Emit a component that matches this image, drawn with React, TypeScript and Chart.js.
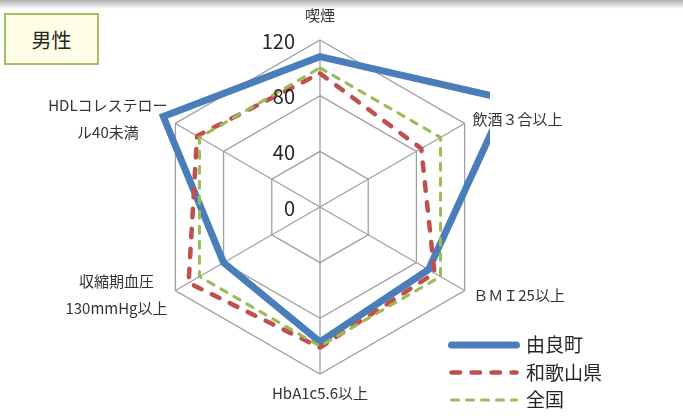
import React, { useEffect, useRef } from 'react';
import { Chart, registerables } from 'chart.js';

Chart.register(...registerables);

const FONT = '"Noto Sans CJK JP", "Noto Sans", sans-serif';

// ---- data ----
const categories: (string | string[])[] = [
  '喫煙',
  '飲酒３合以上',
  'ＢＭＩ25以上',
  'HbA1c5.6以上',
  ['収縮期血圧', '130mmHg以上'],
  ['HDLコレステロー', 'ル40未満'],
];
const seriesNames = ['由良町', '和歌山県', '全国'];
const yuraValues = [108, 155, 90, 97, 80, 130];
const wakayamaValues = [96, 84, 95, 101, 109, 102];
const nationalValues = [100, 100, 100, 100, 100, 100];
const tickValues = [0, 40, 80, 120];

// ---- styling helpers ----
const labelGaps = [25, 9, 10, 19, 9, 9];

const clipPlugin = {
  id: 'plotClip',
  beforeDatasetDraw(chart: any) {
    const { ctx, chartArea } = chart;
    ctx.save();
    ctx.beginPath();
    ctx.rect(0, 0, chartArea.right + 3, chart.height);
    ctx.clip();
  },
  afterDatasetDraw(chart: any) {
    chart.ctx.restore();
  },
};

const pointLabelPlugin = {
  id: 'excelPointLabels',
  afterDraw(chart: any) {
    const scale = chart.scales.r;
    const ctx = chart.ctx;
    ctx.save();
    ctx.font = `15px ${FONT}`;
    ctx.fillStyle = '#333333';
    ctx.textBaseline = 'middle';
    ctx.textAlign = 'center';
    const lh = 27;
    (chart.data.labels as any[]).forEach((lab, i) => {
      const lines: string[] = Array.isArray(lab) ? lab : [lab];
      const pos = scale.getPointPosition(i, scale.drawingArea + labelGaps[i]);
      const maxW = Math.max(...lines.map((l) => ctx.measureText(l).width));
      let cx = pos.x;
      if (pos.x > scale.xCenter + 1) cx = pos.x + maxW / 2;
      else if (pos.x < scale.xCenter - 1) cx = pos.x - maxW / 2;
      lines.forEach((line, j) => {
        ctx.fillText(line, cx, pos.y + (j - (lines.length - 1) / 2) * lh);
      });
    });
    ctx.restore();
  },
};

const tickLabelPlugin = {
  id: 'excelTickLabels',
  afterDraw(chart: any) {
    const scale = chart.scales.r;
    const ctx = chart.ctx;
    ctx.save();
    ctx.font = `20px ${FONT}`;
    ctx.fillStyle = '#262626';
    ctx.textAlign = 'right';
    ctx.textBaseline = 'middle';
    scale.ticks.forEach((t: any) => {
      const d = scale.getDistanceFromCenterForValue(t.value);
      ctx.fillText(String(t.label), scale.xCenter - 25, scale.yCenter - d + 1);
    });
    ctx.restore();
  },
};

const legendPlacePlugin = {
  id: 'legendPlace',
  afterLayout(chart: any) {
    const lg = chart.legend;
    if (!lg) return;
    lg.left = 443;
    lg.top = 327;
    lg.right = chart.width;
    lg.bottom = chart.height + 300;
  },
};

export default function App() {
  const ref = useRef<HTMLCanvasElement | null>(null);

  useEffect(() => {
    if (!ref.current) return;
    const chart = new Chart(ref.current, {
      type: 'radar',
      data: {
        labels: categories,
        datasets: [
          {
            label: seriesNames[0],
            data: yuraValues,
            borderColor: '#4a7ebb',
            backgroundColor: 'transparent',
            borderWidth: 7,
            borderJoinStyle: 'miter',
            borderCapStyle: 'round',
            pointRadius: 0,
            fill: false,
            order: 3,
          },
          {
            label: seriesNames[1],
            data: wakayamaValues,
            borderColor: '#c0504d',
            backgroundColor: 'transparent',
            borderWidth: 4.5,
            borderDash: [8.5, 11.5],
            borderCapStyle: 'round',
            borderJoinStyle: 'round',
            pointRadius: 0,
            fill: false,
            order: 2,
          },
          {
            label: seriesNames[2],
            data: nationalValues,
            borderColor: '#9bbb59',
            backgroundColor: 'transparent',
            borderWidth: 3,
            borderDash: [7, 8],
            borderCapStyle: 'round',
            borderJoinStyle: 'round',
            pointRadius: 0,
            fill: false,
            order: 1,
          },
        ] as any,
      },
      options: {
        animation: false,
        responsive: true,
        maintainAspectRatio: false,
        layout: { padding: { left: 153, top: 40, right: 196, bottom: 42 } },
        scales: {
          r: {
            min: 0,
            max: 120,
            afterBuildTicks: (scale: any) => {
              scale.ticks = tickValues.map((value) => ({ value }));
            },
            ticks: { display: false },
            pointLabels: { display: false },
            grid: { color: '#a0a0a0', lineWidth: 1.3 },
            angleLines: { color: '#a0a0a0', lineWidth: 1.3 },
          } as any,
        },
        plugins: {
          tooltip: { enabled: false },
          legend: {
            display: true,
            position: 'chartArea' as any,
            align: 'start',
            labels: {
              usePointStyle: true,
              pointStyle: 'line',
              pointStyleWidth: 65,
              padding: 8.5,
              color: '#262626',
              font: { family: FONT, size: 19 },
              generateLabels: (c: any) =>
                c.data.datasets.map((ds: any, i: number) => ({
                  text: ds.label,
                  strokeStyle: ds.borderColor,
                  fillStyle: 'transparent',
                  lineWidth: ds.borderWidth,
                  lineDash: ds.borderDash || [],
                  lineCap: 'round',
                  lineJoin: 'round',
                  pointStyle: 'line',
                  hidden: false,
                  datasetIndex: i,
                  fontColor: '#262626',
                })),
            },
          },
        },
      } as any,
      plugins: [clipPlugin, pointLabelPlugin, tickLabelPlugin, legendPlacePlugin],
    });
    return () => chart.destroy();
  }, []);

  return (
    <div style={{ position: 'fixed', left: 0, top: 0, width: 683, height: 416, background: '#ffffff' }}>
      <div
        style={{
          position: 'absolute',
          left: 0,
          top: 0,
          width: 683,
          height: 9,
          background: 'linear-gradient(rgba(110,110,110,0.55), rgba(255,255,255,0))',
        }}
      />
      <canvas ref={ref} style={{ position: 'absolute', left: 0, top: 0, width: 683, height: 416 }} />
      <div
        style={{
          position: 'absolute',
          left: 4,
          top: 13,
          width: 95,
          height: 52,
          boxSizing: 'border-box',
          border: '2px solid #a2c062',
          background: '#fefee6',
          display: 'flex',
          alignItems: 'center',
          justifyContent: 'center',
          fontFamily: FONT,
          fontSize: 20,
          color: '#262626',
        }}
      >
        男性
      </div>
    </div>
  );
}
